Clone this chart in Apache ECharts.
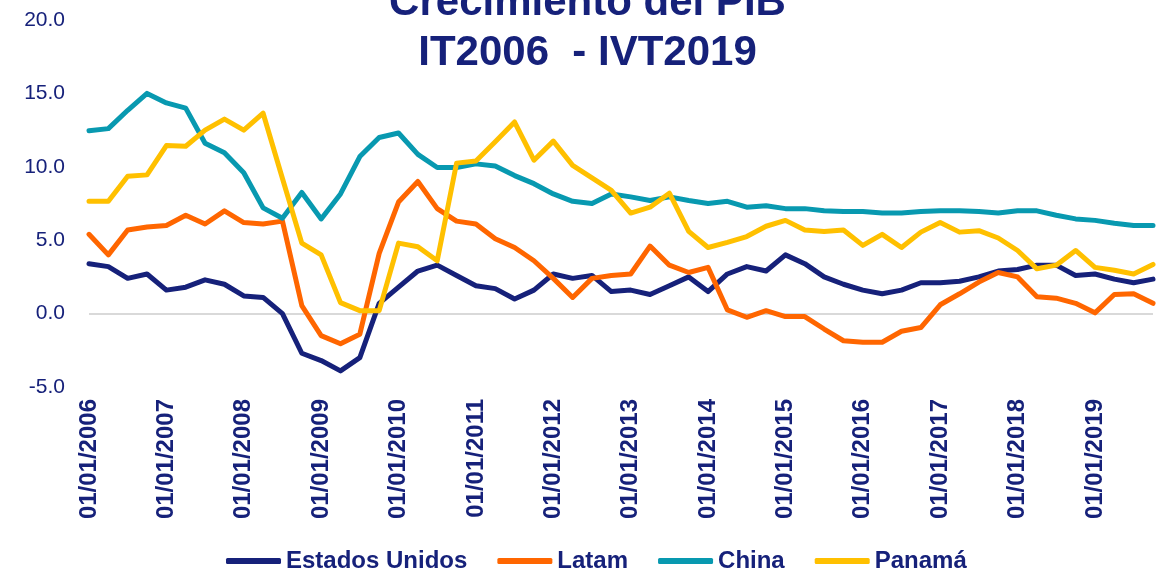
<!DOCTYPE html>
<html>
<head>
<meta charset="utf-8">
<script src="https://cdn.jsdelivr.net/npm/echarts@6/dist/echarts.min.js"></script>
<style>
html,body{margin:0;padding:0;background:#fff;}
#chart{width:1175px;height:570px;}
</style>
</head>
<body>
<div id="chart"></div>
<script>
// Quarterly categories 2006Q1 - 2019Q4
const years = [2006,2007,2008,2009,2010,2011,2012,2013,2014,2015,2016,2017,2018,2019];
const quarterDays = ["01/01/","01/04/","01/07/","01/10/"];
const categories = [];
years.forEach(y => quarterDays.forEach(q => categories.push(q + y)));

const seriesNames = ["Estados Unidos", "Latam", "China", "Panamá"];

const estadosUnidos = [3.4,3.2,2.4,2.7,1.6,1.8,2.3,2.0,1.2,1.1,0.0,-2.7,-3.2,-3.9,-3.0,0.7,1.8,2.9,3.3,2.6,1.9,1.7,1.0,1.6,2.7,2.4,2.6,1.5,1.6,1.3,1.9,2.5,1.5,2.7,3.2,2.9,4.0,3.4,2.5,2.0,1.6,1.35,1.6,2.1,2.1,2.2,2.5,2.9,3.0,3.3,3.3,2.6,2.7,2.35,2.1,2.35];
const latam = [5.4,4.0,5.7,5.9,6.0,6.7,6.1,7.0,6.2,6.1,6.3,0.55,-1.5,-2.05,-1.4,4.1,7.6,9.0,7.15,6.3,6.1,5.1,4.5,3.6,2.4,1.1,2.4,2.6,2.7,4.6,3.3,2.8,3.15,0.25,-0.25,0.2,-0.2,-0.2,-1.05,-1.85,-1.95,-1.95,-1.2,-0.95,0.6,1.35,2.15,2.8,2.5,1.15,1.05,0.7,0.05,1.3,1.35,0.7];
const china = [12.45,12.6,13.85,15.0,14.35,14.0,11.6,10.95,9.6,7.2,6.5,8.25,6.45,8.15,10.7,12.0,12.3,10.85,9.95,9.95,10.2,10.05,9.4,8.85,8.15,7.65,7.5,8.15,7.95,7.7,7.95,7.7,7.5,7.65,7.25,7.35,7.15,7.15,7.0,6.95,6.95,6.85,6.85,6.95,7.0,7.0,6.95,6.85,7.0,7.0,6.7,6.45,6.35,6.15,6.0,6.0];
const panama = [7.65,7.65,9.35,9.45,11.45,11.4,12.5,13.25,12.5,13.65,9.2,4.8,4.0,0.75,0.2,0.2,4.8,4.55,3.6,10.25,10.4,11.7,13.05,10.45,11.75,10.1,9.25,8.4,6.85,7.25,8.2,5.6,4.5,4.85,5.25,5.95,6.35,5.7,5.6,5.7,4.65,5.4,4.5,5.55,6.2,5.55,5.65,5.15,4.3,3.05,3.3,4.3,3.15,2.95,2.7,3.35];

const seriesValues = [estadosUnidos, latam, china, panama];
const seriesColors = ["#16217A", "#FF6600", "#0899B0", "#FFC000"];

const navy = "#16217A";
const fontFamily = "'Liberation Sans', Arial, sans-serif";

const chart = echarts.init(document.getElementById('chart'), null, {renderer: 'canvas'});

const option = {
  backgroundColor: '#ffffff',
  animation: false,
  title: {
    text: "Crecimiento del PIB\nIT2006  - IVT2019",
    left: 'center',
    top: -27,
    textStyle: {
      color: navy,
      fontFamily: fontFamily,
      fontWeight: 'bold',
      fontSize: 42,
      lineHeight: 50
    }
  },
  legend: {
    data: seriesNames,
    left: 221,
    top: 544,
    icon: 'roundRect',
    itemWidth: 55,
    itemHeight: 6,
    itemGap: 30,
    textStyle: {
      color: navy,
      fontFamily: fontFamily,
      fontWeight: 'bold',
      fontSize: 24
    }
  },
  grid: {
    left: 89,
    right: 22,
    top: 20,
    bottom: 183,
    containLabel: false
  },
  xAxis: {
    type: 'category',
    data: categories,
    boundaryGap: false,
    axisLine: {show: false},
    axisTick: {show: false},
    splitLine: {show: false},
    axisLabel: {
      interval: 3,
      rotate: 90,
      margin: 12,
      color: navy,
      fontFamily: fontFamily,
      fontWeight: 'bold',
      fontSize: 24
    }
  },
  yAxis: {
    type: 'value',
    min: -5,
    max: 20,
    interval: 5,
    axisLine: {show: false},
    axisTick: {show: false},
    axisLabel: {
      margin: 24,
      color: navy,
      fontFamily: fontFamily,
      fontSize: 21,
      formatter: v => v.toFixed(1)
    },
    splitLine: {
      show: true,
      lineStyle: {
        width: 2,
        color: ['rgba(0,0,0,0)', '#D9D9D9', 'rgba(0,0,0,0)', 'rgba(0,0,0,0)', 'rgba(0,0,0,0)', 'rgba(0,0,0,0)']
      }
    }
  },
  series: seriesNames.map((name, i) => ({
    name: name,
    type: 'line',
    data: seriesValues[i],
    showSymbol: false,
    symbol: 'none',
    smooth: false,
    color: seriesColors[i],
    lineStyle: {width: 5, color: seriesColors[i], cap: 'round', join: 'round'}
  }))
};

chart.setOption(option);
</script>
</body>
</html>
